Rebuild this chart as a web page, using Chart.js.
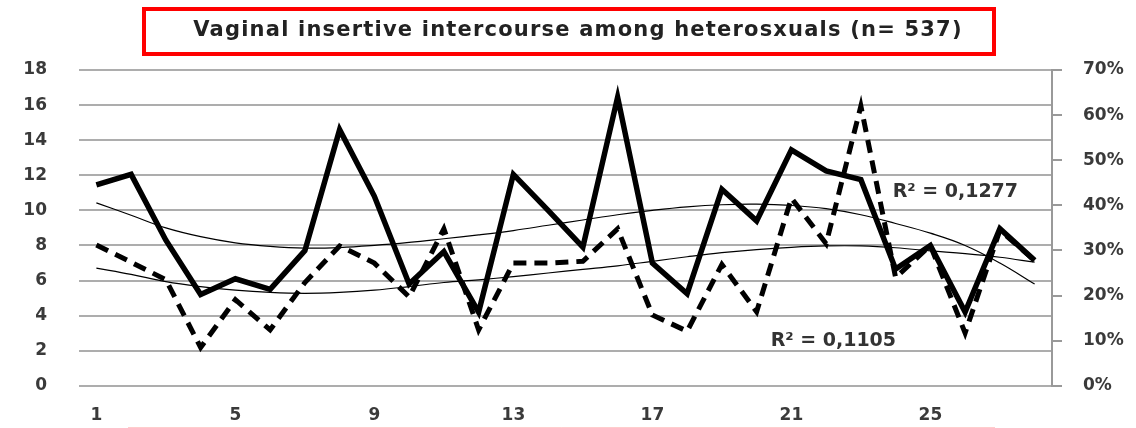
<!DOCTYPE html>
<html>
<head>
<meta charset="utf-8">
<script src="https://cdn.jsdelivr.net/npm/chart.js@4.4.0/dist/chart.umd.min.js"></script>
<style>
  html, body { margin: 0; padding: 0; background: #fff; }
  canvas { display: block; }
</style>
</head>
<body>
<canvas id="myChart" width="1136" height="428"></canvas>
<script>
// values
const categories = ['1', '2', '3', '4', '5', '6', '7', '8', '9', '10', '11', '12', '13', '14',
    '15', '16', '17', '18', '19', '20', '21', '22', '23', '24', '25', '26', '27', '28'];
const solidCounts = [11.45, 12.05, 8.3, 5.2, 6.1, 5.5, 7.7, 14.6, 10.8, 5.8, 7.65, 4.2, 12.05, 10.0,
    7.9, 16.45, 7.0, 5.25, 11.2, 9.4, 13.45, 12.25, 11.75, 6.65, 8.0, 4.2, 8.95, 7.15];
const dashedPct = [31.2, 27.4, 23.5, 8.5, 19.1, 12.4, 22.9, 31.0, 27.2, 19.7, 34.8, 12.4, 27.2, 27.2,
    27.6, 34.8, 15.7, 12.1, 26.9, 16.4, 41.6, 31.5, 62.0, 24.0, 31.1, 11.7, 34.5, 27.8];
const solidTrend = [10.43, 9.72, 9.0, 8.5, 8.15, 7.95, 7.85, 7.88, 8.0, 8.17, 8.38, 8.6, 8.85, 9.15,
    9.45, 9.75, 10.0, 10.2, 10.32, 10.35, 10.28, 10.1, 9.75, 9.25, 8.7, 8.0, 7.0, 5.8];
const dashedTrend = [26.1, 24.7, 23.1, 22.0, 21.2, 20.7, 20.5, 20.7, 21.2, 22.0, 22.9, 23.5, 24.2, 25.0,
    25.8, 26.6, 27.6, 28.6, 29.5, 30.2, 30.7, 31.0, 31.0, 30.6, 29.9, 29.3, 28.5, 27.4];
const r2Labels = ['R² = 0,1277', 'R² = 0,1105'];
const titleText = 'Vaginal insertive intercourse among heterosxuals (n= 537)';

const tickFont = { family: 'DejaVu Sans', size: 17, weight: 'bold' };
const tickColor = '#3a3a3a';

// red framed title + R² notes
const extras = {
    id: 'extras',
    afterDraw(chart) {
        const ctx = chart.ctx;
        const x = chart.scales.x, y = chart.scales.y, y1 = chart.scales.y1;
        ctx.save();
        ctx.strokeStyle = '#ff0000';
        ctx.lineWidth = 4;
        ctx.strokeRect(144, 9, 850, 45);
        ctx.fillStyle = '#222';
        ctx.font = 'bold 21px "DejaVu Sans"';
        ctx.textAlign = 'center';
        ctx.textBaseline = 'middle';
        if ('letterSpacing' in ctx) ctx.letterSpacing = '1.2px';
        ctx.fillText(titleText, 578, 31);
        if ('letterSpacing' in ctx) ctx.letterSpacing = '0px';

        ctx.font = 'bold 19px "DejaVu Sans"';
        ctx.textAlign = 'left';
        ctx.fillStyle = '#333';
        ctx.fillText(r2Labels[0], x.getPixelForValue(23) - 3, y.getPixelForValue(11.05));
        ctx.fillText(r2Labels[1], x.getPixelForValue(19) + 14, y1.getPixelForValue(10.0));

        ctx.strokeStyle = 'rgba(255,0,0,0.2)';
        ctx.lineWidth = 1;
        ctx.beginPath();
        ctx.moveTo(128, 427.5);
        ctx.lineTo(995, 427.5);
        ctx.stroke();
        ctx.restore();
    }
};

new Chart(document.getElementById('myChart'), {
    type: 'line',
    data: {
        labels: categories,
        datasets: [
            {
                data: dashedPct,
                yAxisID: 'y1',
                borderColor: '#000',
                borderWidth: 5,
                borderDash: [13, 8],
                pointRadius: 0,
                tension: 0
            },
            {
                data: solidCounts,
                yAxisID: 'y',
                borderColor: '#000',
                borderWidth: 5.5,
                pointRadius: 0,
                tension: 0
            },
            {
                data: solidTrend,
                yAxisID: 'y',
                borderColor: '#000',
                borderWidth: 1.2,
                pointRadius: 0,
                tension: 0.4
            },
            {
                data: dashedTrend,
                yAxisID: 'y1',
                borderColor: '#000',
                borderWidth: 1.2,
                pointRadius: 0,
                tension: 0.4
            }
        ]
    },
    options: {
        responsive: false,
        animation: false,
        layout: { padding: { top: 70, left: 0, right: 0, bottom: 0 } },
        plugins: {
            legend: { display: false },
            tooltip: { enabled: false },
            title: { display: false }
        },
        scales: {
            x: {
                offset: true,
                grid: { display: false, drawTicks: false },
                border: { display: false },
                ticks: {
                    autoSkip: false,
                    maxRotation: 0,
                    padding: 20,
                    color: tickColor,
                    font: tickFont,
                    callback: function (v, i) { return i % 4 === 0 ? categories[i] : ''; }
                },
                afterFit: function (s) { s.height = 35; }
            },
            y: {
                position: 'left',
                min: 0,
                max: 18,
                ticks: { stepSize: 2, padding: 32, color: tickColor, font: tickFont },
                grid: { color: '#adadad', lineWidth: 2, drawTicks: false },
                border: { display: false },
                afterFit: function (s) { s.width = 79; }
            },
            y1: {
                position: 'right',
                min: 0,
                max: 70,
                ticks: {
                    stepSize: 10,
                    padding: 21,
                    color: tickColor,
                    font: tickFont,
                    callback: function (v) { return v + '%'; }
                },
                grid: { drawOnChartArea: false, drawTicks: true, tickLength: 10, color: '#999', lineWidth: 2 },
                border: { display: true, color: '#999', width: 2 },
                afterFit: function (s) { s.width = 84; }
            }
        }
    },
    plugins: [extras]
});
</script>
</body>
</html>
